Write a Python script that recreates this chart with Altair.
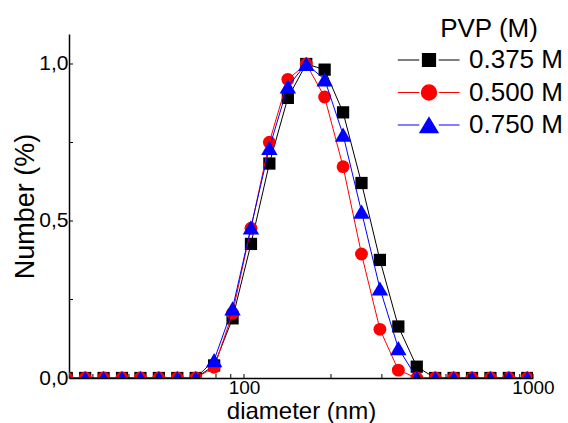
import altair as alt
import pandas as pd

# ---- data ----
diameters = [24.36, 28.21, 32.67, 37.84, 43.82, 50.75, 58.77, 68.06, 78.82, 91.28,
             105.7, 122.4, 141.8, 164.2, 190.1, 220.2, 255.0, 295.3, 342.0, 396.1,
             458.7, 531.2, 615.1, 712.4, 825.0, 955.4]
num_0375 = [0, 0, 0, 0, 0, 0, 0, 0, 0.04, 0.19, 0.427, 0.683, 0.892, 1.0, 0.982,
            0.846, 0.621, 0.376, 0.164, 0.036, 0, 0, 0, 0, 0, 0]
num_0500 = [0, 0, 0, 0, 0, 0, 0, 0, 0.034, 0.206, 0.477, 0.751, 0.951, 1.0, 0.895,
            0.673, 0.395, 0.155, 0.025, 0, 0, 0, 0, 0, 0, 0]
num_0750 = [0, 0, 0, 0, 0, 0, 0, 0, 0.057, 0.222, 0.480, 0.733, 0.929, 1.0, 0.951,
            0.775, 0.530, 0.285, 0.095, 0, 0, 0, 0, 0, 0, 0]

series_labels = ["0.375 M", "0.500 M", "0.750 M"]
series_colors = ["#000000", "#ff0000", "#0000ff"]
series_shapes = ["square", "circle", "triangle-up"]
series_sizes = [150, 165, 270]

x_ticks_major = [100, 1000]
x_ticks_minor = [30, 40, 50, 60, 70, 80, 90, 100, 200, 300, 400, 500, 600, 700, 800, 900, 1000]
y_ticks_major = [0.0, 0.5, 1.0]
y_ticks_minor = [0.25, 0.5, 0.75, 1.0]

legend_paths = [
    "M-2.4,0H-0.75M0.75,0H2.35M-0.5,-0.5H0.5V0.5H-0.5Z",
    "M-2.4,0H-0.75M0.75,0H2.35M0.58,0A0.58,0.58,0,1,1,-0.58,0A0.58,0.58,0,1,1,0.58,0Z",
    "M-2.4,0H-0.75M0.75,0H2.35M0,-0.58L0.7,0.58L-0.7,0.58Z",
]

rows = []
for lab, vals in zip(series_labels, [num_0375, num_0500, num_0750]):
    for d, v in zip(diameters, vals):
        rows.append({"diameter": d, "number": v, "series": lab})
df = pd.DataFrame(rows)

FONT = "Liberation Sans"
W, H = 464, 344

xs = alt.Scale(type="log", domain=[24.8, 1000], nice=False)
ys = alt.Scale(domain=[0, 1.0955], nice=False, zero=False)

x_axis = alt.Axis(values=x_ticks_major, format="d", grid=False, ticks=False, tickSize=0,
                  labelFont=FONT, labelFontSize=19, labelColor="black", labelPadding=0,
                  domainColor="black", domainWidth=1.5, titleFont=FONT, titleFontSize=24,
                  titleFontWeight="normal", titleColor="black", titleY=40,
                  titleBaseline="alphabetic", labelFlush=False)
y_axis = alt.Axis(values=y_ticks_major, labelExpr="replace(format(datum.value, '.1f'), '.', ',')",
                  grid=False, ticks=False, tickSize=0, labelFont=FONT, labelFontSize=21,
                  labelColor="black", labelPadding=1, domainColor="black", domainWidth=1.5,
                  titleFont=FONT, titleFontSize=27, titleFontWeight="normal", titleColor="black",
                  titleX=-36, titleBaseline="alphabetic")

X = alt.X("diameter:Q", scale=xs, axis=x_axis, title="diameter (nm)")
Y = alt.Y("number:Q", scale=ys, axis=y_axis, title="Number (%)")

layers = []
for lab, col, shp, sz in zip(series_labels, series_colors, series_shapes, series_sizes):
    base = alt.Chart(df).transform_filter(alt.datum.series == lab)
    layers.append(base.mark_line(strokeWidth=1, color=col, clip=True).encode(x=X, y=Y))
    layers.append(base.mark_point(filled=True, shape=shp, size=sz, color=col, opacity=1,
                                  clip=True).encode(x=X, y=Y))

# inward ticks
xt = alt.Chart(pd.DataFrame({"diameter": x_ticks_minor})).mark_rule(color="black", strokeWidth=1).encode(
    x=X, y=alt.value(H), y2=alt.value(H - 4))
yt = alt.Chart(pd.DataFrame({"number": y_ticks_minor})).mark_rule(color="black", strokeWidth=1).encode(
    y=Y, x=alt.value(0), x2=alt.value(4))

leg = alt.Legend(title="PVP (M)", orient="none", legendX=346, legendY=-18, padding=0,
                 titleFont=FONT, titleFontSize=26, titleFontWeight="normal", titleColor="black",
                 titleAnchor="middle", titleAlign="center", titleBaseline="top", titlePadding=4,
                 labelFont=FONT, labelFontSize=26, labelColor="black", labelOffset=26,
                 symbolSize=676, rowPadding=5.5, symbolStrokeWidth=1.2, symbolOpacity=1)
leg_df = pd.DataFrame({"series": series_labels})
legend_layer = alt.Chart(leg_df).mark_point(filled=True).encode(
    shape=alt.Shape("series:N", scale=alt.Scale(domain=series_labels, range=legend_paths), legend=leg),
    color=alt.Color("series:N", scale=alt.Scale(domain=series_labels, range=series_colors), legend=leg),
    stroke=alt.Stroke("series:N", scale=alt.Scale(domain=series_labels, range=series_colors), legend=leg),
).transform_filter("false")

chart = alt.layer(*layers, xt, yt, legend_layer).properties(
    width=W, height=H,
    autosize=alt.AutoSizeParams(type="none"),
    padding={"left": 69, "top": 34, "right": 568 - 69 - W, "bottom": 423 - 34 - H},
    background="white",
).configure_view(stroke=None)

chart.save("out.html", embed_options={"renderer": "svg", "actions": False})
